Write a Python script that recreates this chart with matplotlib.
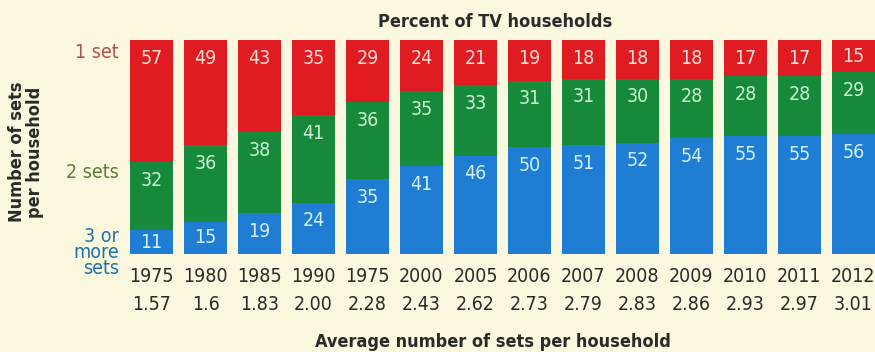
import matplotlib
matplotlib.use('Agg')
import matplotlib.pyplot as plt
import numpy as np

# Podatki
leta = ['1975', '1980', '1985', '1990', '1975', '2000', '2005', '2006',
        '2007', '2008', '2009', '2010', '2011', '2012']
povprecje = ['1.57', '1.6', '1.83', '2.00', '2.28', '2.43', '2.62', '2.73',
             '2.79', '2.83', '2.86', '2.93', '2.97', '3.01']
en_tv = [57, 49, 43, 35, 29, 24, 21, 19, 18, 18, 18, 17, 17, 15]
dva_tv = [32, 36, 38, 41, 36, 35, 33, 31, 31, 30, 28, 28, 28, 29]
tri_tv = [11, 15, 19, 24, 35, 41, 46, 50, 51, 52, 54, 55, 55, 56]

plt.rcParams['font.family'] = ['Liberation Sans Narrow', 'DejaVu Sans']
plt.rcParams['font.stretch'] = 'condensed'

ozadje = '#fcf7df'
rdeca, zelena, modra = '#e01b22', '#168a3a', '#1f7dd3'

fig = plt.figure(figsize=(8.75, 3.52), dpi=100, facecolor=ozadje)
W, H = 875, 352
ax = fig.add_axes([124.5 / W, (H - 254) / H, (W - 124.5) / W, 214 / H])
ax.set_facecolor(ozadje)
x = np.arange(len(leta))
sirina = 0.8

ax.bar(x, tri_tv, sirina, color=modra)
ax.bar(x, dva_tv, sirina, bottom=tri_tv, color=zelena)
spodaj = np.array(tri_tv) + np.array(dva_tv)
ax.bar(x, en_tv, sirina, bottom=spodaj, color=rdeca)

ax.set_xlim(-0.5, -0.5 + (W - 124.5) / 54)
ax.set_ylim(0, 100)
ax.axis('off')

# oznake vrednosti
for i in range(len(leta)):
    segmenti = [(tri_tv[i], 0, '#d5f1ff'),
                (dva_tv[i], tri_tv[i], '#cdf2d4'),
                (en_tv[i], spodaj[i], '#fde0d8')]
    for v, b, c in segmenti:
        y = b + v - min(8.5, v / 2)
        ax.text(x[i], y, str(v), ha='center', va='center', color=c, fontsize=14)

# leta in povprecja
for i in range(len(leta)):
    xi = (124.5 + 27 + 54 * i) / W
    fig.text(xi, 1 - 277 / H, leta[i], ha='center', va='center',
             fontsize=14, color='#2a2a2a')
    fig.text(xi, 1 - 304 / H, povprecje[i], ha='center', va='center',
             fontsize=14, color='#2a2a2a')

fig.text(495 / W, 1 - 22 / H, 'Percent of TV households', ha='center',
         va='center', fontsize=13, fontweight='bold', color='#2a2a2a')
fig.text(493 / W, 1 - 342 / H, 'Average number of sets per household',
         ha='center', va='center', fontsize=13, fontweight='bold', color='#2a2a2a')
fig.text(26 / W, 1 - 152 / H, 'Number of sets\nper household', ha='center',
         va='center', rotation=90, fontsize=13, fontweight='bold',
         color='#2a2a2a', linespacing=0.95)

fig.text(119 / W, 1 - 52 / H, '1 set', ha='right', va='center', fontsize=14,
         color='#b0534a')
fig.text(119 / W, 1 - 173 / H, '2 sets', ha='right', va='center', fontsize=14,
         color='#5b7d3c')
fig.text(119 / W, 1 - 252 / H, '3 or\nmore\nsets', ha='right', va='center',
         fontsize=14, color='#1f72a8', linespacing=0.8)

plt.savefig('out.png', dpi=100, facecolor=ozadje)
